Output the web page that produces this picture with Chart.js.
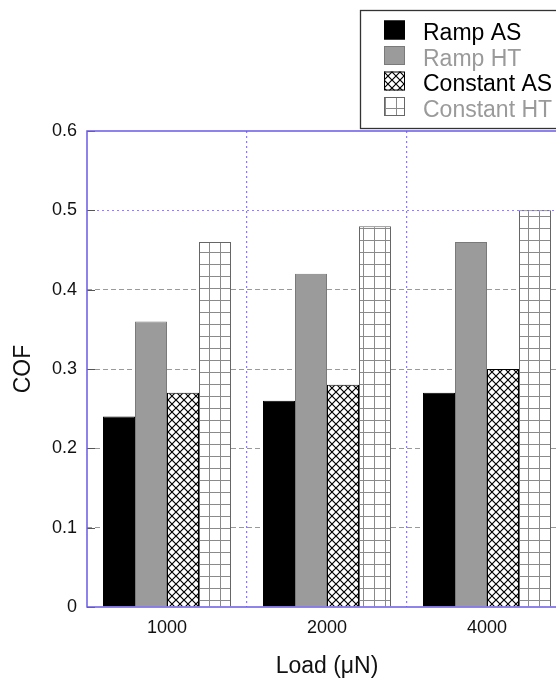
<!DOCTYPE html>
<html>
<head>
<meta charset="utf-8">
<script src="https://cdn.jsdelivr.net/npm/chart.js@4"></script>
<style>
  html, body { margin: 0; padding: 0; background: #fff; overflow: hidden; }
  #wrap { width: 556px; height: 678px; overflow: hidden; position: relative; }
  canvas { display: block; }
</style>
</head>
<body>
<div id="wrap"><canvas id="c" width="600" height="678"></canvas></div>
<script>
// ---- data ----
const categories = ['1000', '2000', '4000'];
const seriesNames = ['Ramp AS', 'Ramp HT', 'Constant AS', 'Constant HT'];
const rampAS = [0.24, 0.26, 0.27];
const rampHT = [0.36, 0.42, 0.46];
const constantAS = [0.27, 0.28, 0.30];
const constantHT = [0.46, 0.48, 0.50];
const yTickLabels = ['0', '0.1', '0.2', '0.3', '0.4', '0.5', '0.6'];

const FONT = "'Liberation Sans', Arial, sans-serif";
const AXIS_BLUE = '#6a5ae6';

function makeCross() {
  const s = 8;
  const c = document.createElement('canvas');
  c.width = s; c.height = s;
  const g = c.getContext('2d');
  g.fillStyle = '#fff'; g.fillRect(0, 0, s, s);
  g.strokeStyle = '#000'; g.lineWidth = 1.2;
  g.beginPath();
  g.moveTo(0, 0); g.lineTo(s, s);
  g.moveTo(s, 0); g.lineTo(0, s);
  g.stroke();
  return g.createPattern(c, 'repeat');
}
function makeGrid() {
  const w = 11, h = 12;
  const c = document.createElement('canvas');
  c.width = w; c.height = h;
  const g = c.getContext('2d');
  g.fillStyle = '#fff'; g.fillRect(0, 0, w, h);
  g.strokeStyle = '#8a8a8a'; g.lineWidth = 1;
  g.beginPath();
  g.moveTo(0.5, 0); g.lineTo(0.5, h);
  g.moveTo(0, 0.5); g.lineTo(w, 0.5);
  g.stroke();
  return g.createPattern(c, 'repeat');
}
const crossPat = makeCross();
const gridPat = makeGrid();

const fills = ['#000000', '#9b9b9b', crossPat, gridPat];
const borders = ['#000000', '#7a7a7a', '#000000', '#666666'];
const textColors = ['#000000', '#9a9a9a', '#000000', '#9a9a9a'];
const seriesData = [rampAS, rampHT, constantAS, constantHT];

const framePlugin = {
  id: 'frame',
  afterDraw(chart) {
    const {ctx, chartArea: a} = chart;
    const y = chart.scales.y;
    ctx.save();
    // inward ticks
    ctx.strokeStyle = '#555';
    ctx.lineWidth = 1;
    y.ticks.forEach(t => {
      const py = Math.round(y.getPixelForValue(t.value)) + 0.5;
      ctx.beginPath(); ctx.moveTo(a.left, py); ctx.lineTo(a.left + 8, py); ctx.stroke();
    });
    // frame
    ctx.strokeStyle = AXIS_BLUE;
    ctx.lineWidth = 1.5;
    ctx.strokeRect(a.left, a.top, a.right - a.left, a.bottom - a.top);
    // legend
    const bx = 360.5, by = 10.5, bw = 240, bh = 118;
    ctx.fillStyle = '#fff';
    ctx.fillRect(bx, by, bw, bh);
    ctx.strokeStyle = '#333';
    ctx.lineWidth = 1.3;
    ctx.strokeRect(bx, by, bw, bh);
    ctx.font = '23px ' + FONT;
    ctx.textBaseline = 'alphabetic';
    seriesNames.forEach((name, i) => {
      const base = 40 + i * 25.5;
      const sx = 384, sy = base - 19.5, sw = 21, sh = 19;
      ctx.fillStyle = fills[i];
      ctx.fillRect(sx, sy, sw, sh);
      ctx.strokeStyle = borders[i];
      ctx.lineWidth = 1;
      ctx.strokeRect(sx + 0.5, sy + 0.5, sw - 1, sh - 1);
      ctx.fillStyle = textColors[i];
      ctx.fillText(name, 423, base);
    });
    ctx.restore();
  }
};

new Chart(document.getElementById('c'), {
  type: 'bar',
  data: {
    labels: categories,
    datasets: seriesNames.map((n, i) => ({
      label: n,
      data: seriesData[i],
      backgroundColor: fills[i],
      borderColor: borders[i],
      borderWidth: 1,
      borderSkipped: 'bottom',
      categoryPercentage: 0.8,
      barPercentage: 1.0
    }))
  },
  options: {
    responsive: false,
    animation: false,
    layout: { padding: { top: 131, right: 33, left: 0, bottom: 0 } },
    plugins: { legend: { display: false }, tooltip: { enabled: false } },
    scales: {
      x: {
        grid: {
          offset: true,
          drawTicks: false,
          color: ctx => (ctx.index === 0 ? 'rgba(0,0,0,0)' : 'rgba(106,90,230,0.8)'),
          lineWidth: 1.2
        },
        border: { display: false, dash: [2, 3] },
        ticks: { padding: 10, color: '#111', font: { family: FONT, size: 18 } },
        title: { display: true, text: 'Load (μN)', color: '#111', padding: { top: 0, bottom: 0 },
                 font: { family: FONT, size: 23, lineHeight: 1 } },
        afterFit: s => { s.height = 71; }
      },
      y: {
        min: 0, max: 0.6,
        ticks: {
          stepSize: 0.1, padding: 10, color: '#111',
          font: { family: FONT, size: 18 },
          callback: (v, i) => yTickLabels[i]
        },
        grid: {
          drawTicks: false,
          color: ctx => {
            const v = Math.round(ctx.tick.value * 10);
            if (v === 0 || v === 6) return 'rgba(0,0,0,0)';
            if (v === 5) return 'rgba(106,90,230,0.75)';
            return 'rgba(120,120,120,0.75)';
          },
          lineWidth: 1
        },
        border: { display: false, dash: ctx => (Math.round(ctx.tick.value * 10) === 5 ? [2, 3] : [5, 3]) },
        title: { display: true, text: 'COF', color: '#111', padding: { top: 12.5, bottom: 0 },
                 font: { family: FONT, size: 23, lineHeight: 1 } },
        afterFit: s => { s.width = 87; }
      }
    }
  },
  plugins: [framePlugin]
});
</script>
</body>
</html>
